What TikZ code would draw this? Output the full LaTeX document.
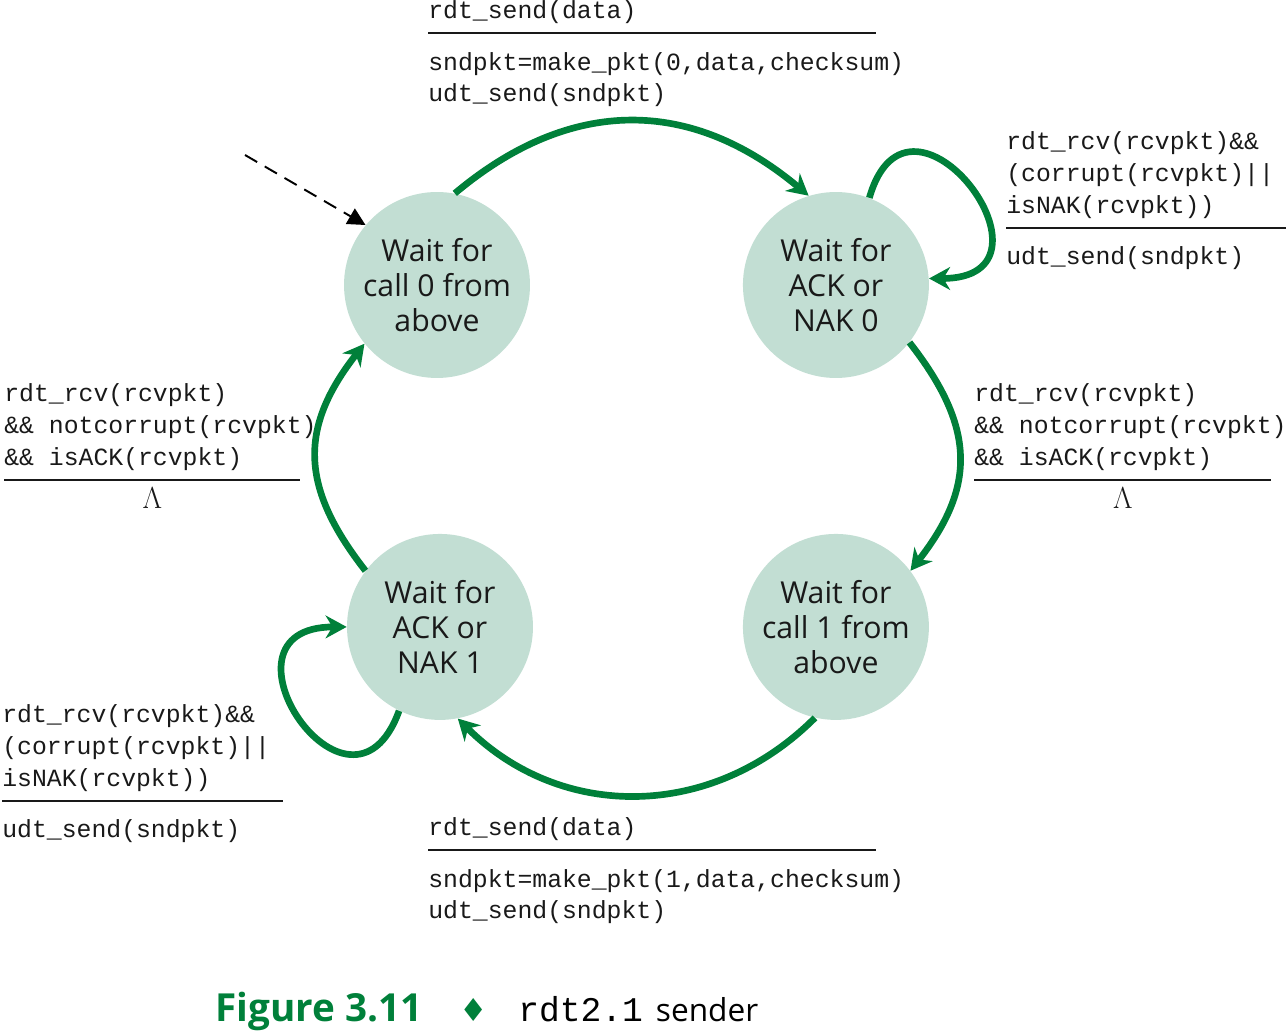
\documentclass[tikz,border=0pt]{standalone}
\usepackage{fontspec}
\setmainfont{Open Sans}
\newfontfamily\codefont{Liberation Mono}
\newfontfamily\symfont{DejaVu Sans}
\usetikzlibrary{arrows.meta,positioning}

\definecolor{fsmgreen}{RGB}{0,128,58}
\definecolor{statefill}{RGB}{194,222,211}
\definecolor{inkgray}{RGB}{25,25,25}

\newcommand{\guardrule}[1]{\rule[0.32cm]{#1}{0.04cm}}
\newcommand{\lambdaline}[1]{\makebox[#1]{\fontsize{16.5}{18}\selectfont$\Lambda$}}

\begin{document}
\begin{tikzpicture}[x=0.02cm,y=0.02cm,>={Stealth[length=12pt,width=13pt]},on grid,
  waitstate/.style={circle,fill=statefill,minimum size=3.72cm,inner sep=0pt,align=center,
    text=inkgray,font=\fontsize{17.2}{19.9}\selectfont},
  trans/.style={->,draw=fsmgreen,line width=3.8pt},
  action/.style={anchor=base west,align=left,inner sep=0pt,text=inkgray,
    font=\codefont\fontsize{14.1}{18.2}\selectfont}]
  \useasboundingbox (0,0) rectangle (1286,-1033);

  \node[waitstate] (call0) at (437,-285)        {Wait for\\call 0 from\\above};
  \node[waitstate] (acknak0) [right=7.98cm of call0] {Wait for\\ACK or\\NAK 0};
  \node[waitstate] (call1) [below=6.84cm of acknak0] {Wait for\\call 1 from\\above};
  \node[waitstate] (acknak1) [left=7.92cm of call1]  {Wait for\\ACK or\\NAK 1};

  % initial state
  \coordinate (start) at (245,-155);
  \draw[line width=1.1pt,dash pattern=on 8pt off 5pt,-{Triangle[length=10pt,width=10pt]}]
    (start) -- (call0.140);

  \path (call0.79)    edge [trans,out=40,in=140,looseness=1.1]    (acknak0.107)
        (acknak0.69)  edge [trans,out=74,in=0,looseness=3.7]      (acknak0.4)
        (acknak0.-38) edge [trans,out=-52,in=52,looseness=1.2]    (call1.37)
        (call1.-103)  edge [trans,out=-135,in=-45,looseness=1.04] (acknak1.-79)
        (acknak1.244) edge [trans,out=250,in=180,looseness=3.7]   (acknak1.180)
        (acknak1.143) edge [trans,out=128,in=-128,looseness=1.2]  (call0.-141);

  % event / action labels (anchored on the last line)
  \node[action] (send0) at (428,-102) {rdt\_send(data)\\
    \guardrule{8.96cm}\\[-0.24cm]
    sndpkt=make\_pkt(0,data,checksum)\\
    udt\_send(sndpkt)};
  \node[action] (resend0) at (1006,-265) {rdt\_rcv(rcvpkt)\&\&\\
    (corrupt(rcvpkt)||\\
    isNAK(rcvpkt))\\
    \guardrule{5.62cm}\\[-0.24cm]
    udt\_send(sndpkt)};
  \node[action] (ack0) at (974,-509) {rdt\_rcv(rcvpkt)\\
    \&\& notcorrupt(rcvpkt)\\
    \&\& isACK(rcvpkt)\\
    \guardrule{5.94cm}\\[-0.4cm]
    \lambdaline{5.94cm}};
  \node[action] (ack1) at (4,-509) {rdt\_rcv(rcvpkt)\\
    \&\& notcorrupt(rcvpkt)\\
    \&\& isACK(rcvpkt)\\
    \guardrule{5.92cm}\\[-0.4cm]
    \lambdaline{5.92cm}};
  \node[action] (resend1) at (2,-838) {rdt\_rcv(rcvpkt)\&\&\\
    (corrupt(rcvpkt)||\\
    isNAK(rcvpkt))\\
    \guardrule{5.62cm}\\[-0.24cm]
    udt\_send(sndpkt)};
  \node[action] (send1) at (428,-919) {rdt\_send(data)\\
    \guardrule{8.96cm}\\[-0.24cm]
    sndpkt=make\_pkt(1,data,checksum)\\
    udt\_send(sndpkt)};

  \node[anchor=base west,inner sep=0pt] (caption) at (215,-1022)
    {{\color{fsmgreen}\bfseries\fontsize{22}{24}\selectfont Figure 3.11\hspace{0.75cm}{\symfont\mdseries\fontsize{18}{24}\selectfont ♦}}\hspace{0.6cm}{\codefont\fontsize{19.7}{24}\selectfont rdt2.1}\hspace{0.26cm}{\fontsize{18}{24}\selectfont sender}};
\end{tikzpicture}
\end{document}
